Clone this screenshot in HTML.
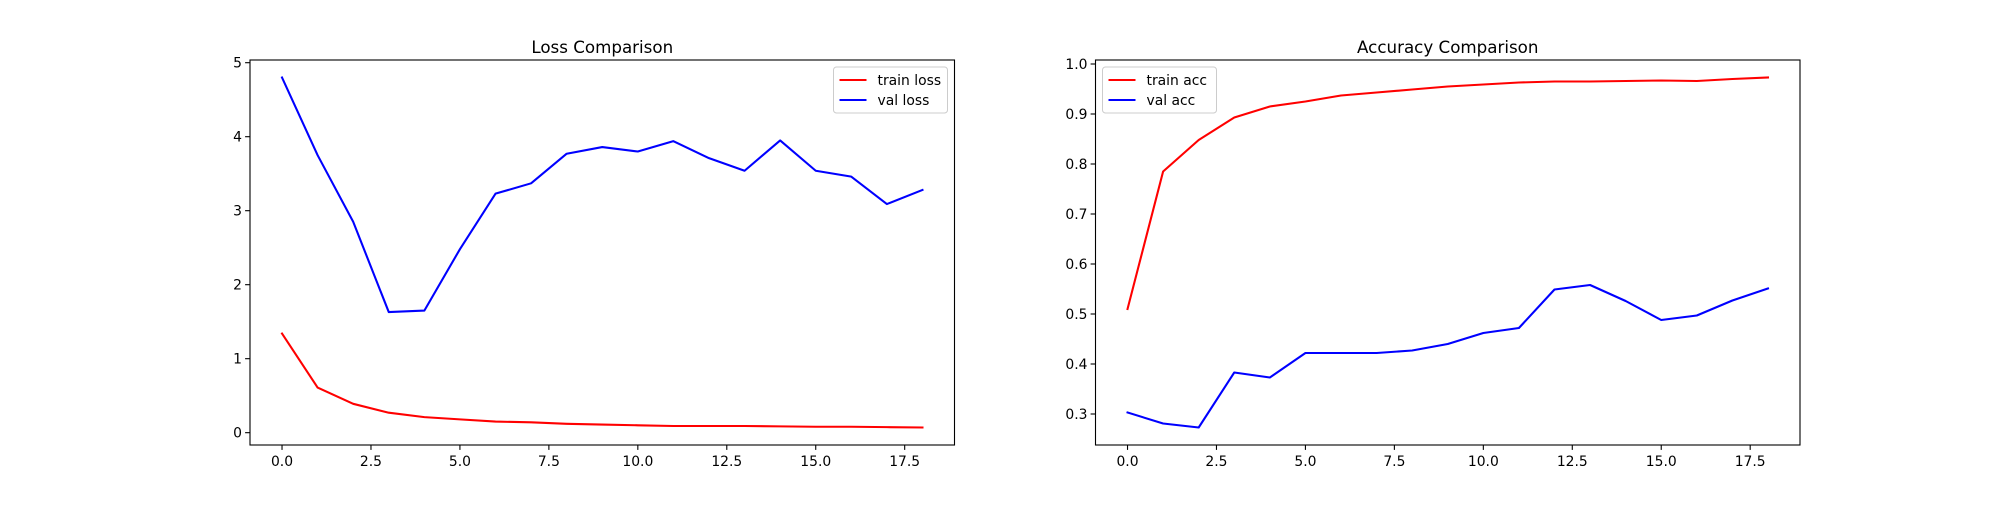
<!DOCTYPE html>
<html><head><meta charset="utf-8"><style>
html,body{margin:0;padding:0;background:#fff;}
svg text{font-family:"DejaVu Sans","Liberation Sans",sans-serif;fill:#000;}
</style></head><body>
<svg id="fig" width="2000" height="500" xmlns="http://www.w3.org/2000/svg"></svg>
<script>
const epochs=[0,1,2,3,4,5,6,7,8,9,10,11,12,13,14,15,16,17,18];
const trainLoss=[1.34,0.61,0.39,0.27,0.21,0.18,0.15,0.14,0.12,0.11,0.10,0.09,0.09,0.09,0.085,0.08,0.08,0.075,0.07];
const valLoss=[4.80,3.75,2.85,1.63,1.65,2.48,3.23,3.37,3.77,3.86,3.80,3.94,3.71,3.54,3.95,3.54,3.46,3.09,3.28];
const trainAcc=[0.51,0.785,0.848,0.893,0.915,0.925,0.937,0.943,0.949,0.955,0.959,0.963,0.965,0.965,0.966,0.967,0.966,0.970,0.973];
const valAcc=[0.303,0.281,0.273,0.383,0.373,0.422,0.422,0.422,0.427,0.440,0.462,0.472,0.549,0.558,0.526,0.488,0.497,0.527,0.551];
const xTicks=[0,2.5,5,7.5,10,12.5,15,17.5];
const xTickLabels=["0.0","2.5","5.0","7.5","10.0","12.5","15.0","17.5"];
const lossYTicks=[0,1,2,3,4,5];
const lossYTickLabels=["0","1","2","3","4","5"];
const accYTicks=[0.3,0.4,0.5,0.6,0.7,0.8,0.9,1.0];
const accYTickLabels=["0.3","0.4","0.5","0.6","0.7","0.8","0.9","1.0"];

const NS="http://www.w3.org/2000/svg";
const svg=document.getElementById('fig');
function mk(tag,attrs,parent){const e=document.createElementNS(NS,tag);for(const k in attrs)e.setAttribute(k,attrs[k]);(parent||svg).appendChild(e);return e;}

function drawAxes(opts){
  const L=opts.left,R=opts.left+704.5,T=60,B=445;
  const g=mk('g',{});
  
  
  const all=opts.series.flatMap(s=>s.values);
  let mn=Math.min(...all),mx=Math.max(...all),m=(mx-mn)*0.05;
  const y0=mn-m,y1=mx+m;
  const x0=-0.9,x1=18.9;
  const sx=v=>L+(v-x0)/(x1-x0)*(R-L);
  const sy=v=>B-(v-y0)/(y1-y0)*(B-T);
  opts.series.forEach(s=>{
    const p=mk('polyline',{points:epochs.map((e,i)=>sx(e)+','+sy(s.values[i])).join(' '),fill:'none',stroke:s.color,'stroke-width':2.08,'stroke-linejoin':'round','stroke-linecap':'square'},g);
    
    
  });
  const fr=mk('rect',{x:L,y:T,width:R-L,height:B-T,fill:'none',stroke:'#000','stroke-width':1.1},g);
  
  
  xTicks.forEach((t,i)=>{
    mk('line',{x1:sx(t),x2:sx(t),y1:B,y2:B+4.9,stroke:'#000','stroke-width':1.1},g);
    const tx=mk('text',{x:sx(t),y:B+21,'font-size':13.9,'text-anchor':'middle'},g);
    tx.textContent=xTickLabels[i];
    
    
  });
  opts.yTicks.forEach((t,i)=>{
    mk('line',{x1:L-4.9,x2:L,y1:sy(t),y2:sy(t),stroke:'#000','stroke-width':1.1},g);
    const tx=mk('text',{x:L-8,y:sy(t)+5,'font-size':13.9,'text-anchor':'end'},g);
    tx.textContent=opts.yLabels[i];
    
    
  });
  const ti=mk('text',{x:(L+R)/2,y:T-7,'font-size':16.7,'text-anchor':'middle'},g);
  ti.textContent=opts.title;
  
  
  const lx=opts.legendRight?R-7-114:L+7,ly=T+7;
  const lg=mk('g',{},g);
  
  
  mk('rect',{x:lx,y:ly,width:114,height:46,rx:3,fill:'#fff','fill-opacity':0.8,stroke:'#ccc','stroke-width':1},lg);
  opts.series.forEach((s,i)=>{
    const yy=ly+13+i*20;
    mk('line',{x1:lx+6,x2:lx+33,y1:yy,y2:yy,stroke:s.color,'stroke-width':2.08},lg);
    const tx=mk('text',{x:lx+44,y:yy+5,'font-size':13.9},lg);
    tx.textContent=s.label;
    
    
  });
}
drawAxes({name:'loss-chart',left:250,title:'Loss Comparison',yTicks:lossYTicks,yLabels:lossYTickLabels,legendRight:true,
  series:[{key:'train-loss-line',label:'train loss',color:'#ff0000',values:trainLoss},{key:'val-loss-line',label:'val loss',color:'#0000ff',values:valLoss}]});
drawAxes({name:'accuracy-chart',left:1095.5,title:'Accuracy Comparison',yTicks:accYTicks,yLabels:accYTickLabels,legendRight:false,
  series:[{key:'train-acc-line',label:'train acc',color:'#ff0000',values:trainAcc},{key:'val-acc-line',label:'val acc',color:'#0000ff',values:valAcc}]});
</script>
</body></html>
